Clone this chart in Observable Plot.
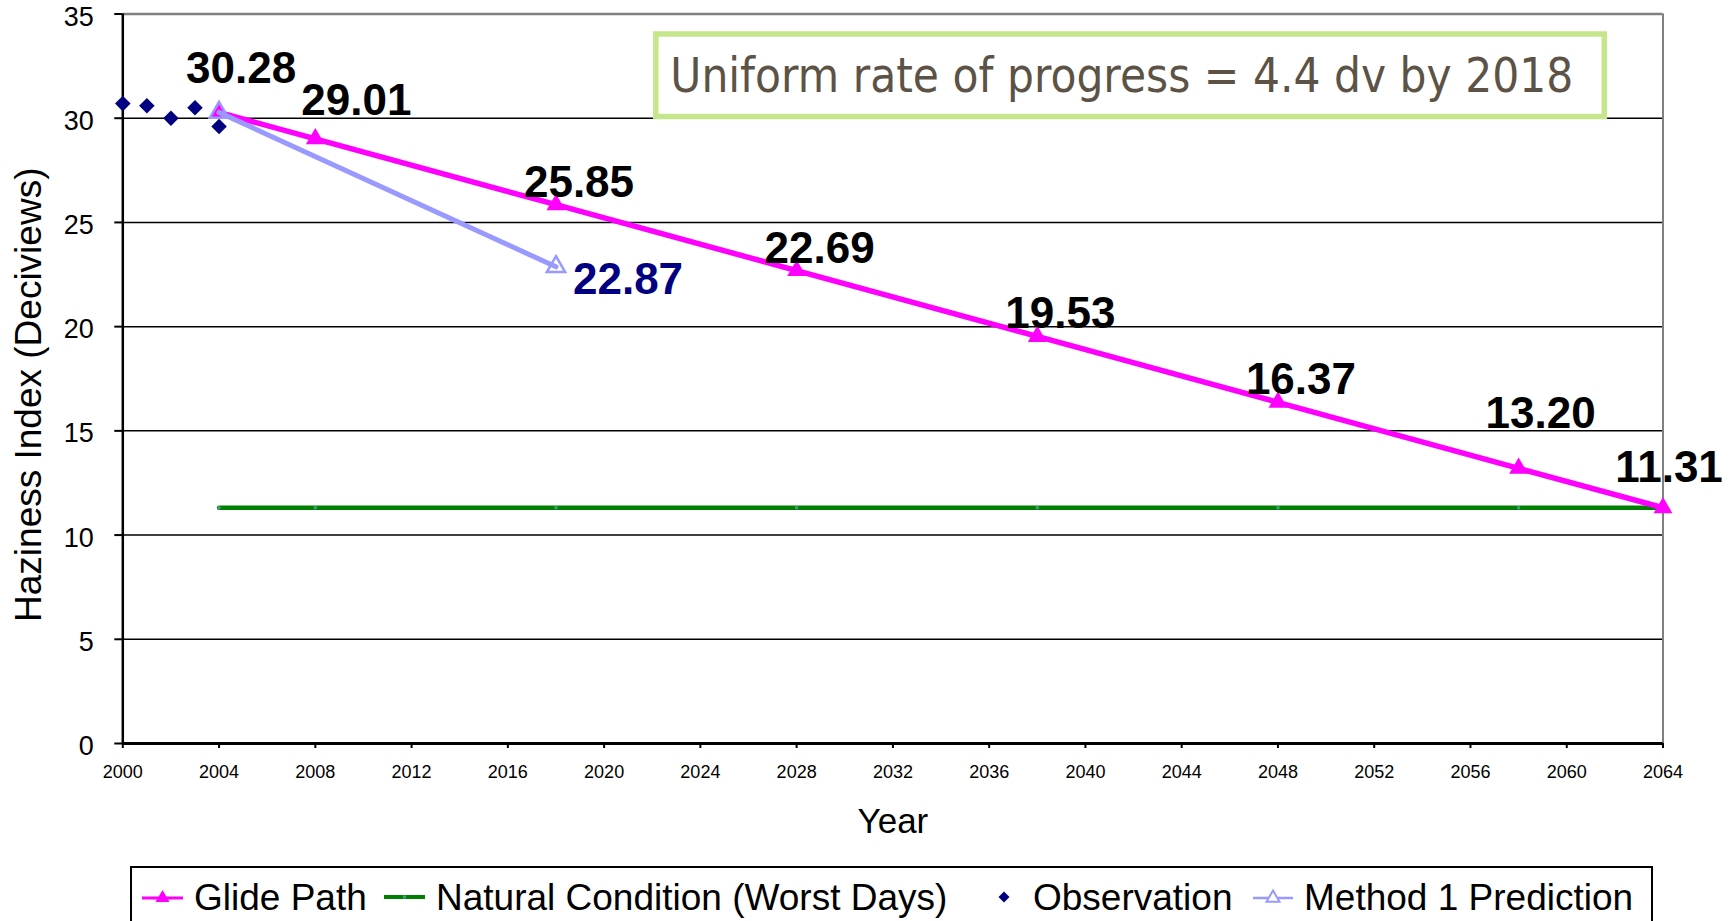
<!DOCTYPE html>
<html>
<head>
<meta charset="utf-8">
<script src="https://cdn.jsdelivr.net/npm/d3@7"></script>
<script src="https://cdn.jsdelivr.net/npm/@observablehq/plot@0.6"></script>
<style>
  html, body { margin: 0; padding: 0; background: #fff; overflow: hidden; }
  svg { display: block; }
</style>
</head>
<body>
<div id="chart"></div>
<script>
// ---- data ----
const glideYears = [2004, 2008, 2018, 2028, 2038, 2048, 2058, 2064];
const glideValues = [30.28, 29.01, 25.85, 22.69, 19.53, 16.37, 13.20, 11.31];
const naturalYears = [2004, 2008, 2018, 2028, 2038, 2048, 2058, 2064];
const naturalValues = [11.31, 11.31, 11.31, 11.31, 11.31, 11.31, 11.31, 11.31];
const obsYears = [2000, 2001, 2002, 2003, 2004];
const obsValues = [30.7, 30.6, 30.0, 30.5, 29.6];
const method1Years = [2004, 2018];
const method1Values = [30.28, 22.87];
const xTicks = [2000, 2004, 2008, 2012, 2016, 2020, 2024, 2028, 2032, 2036, 2040, 2044, 2048, 2052, 2056, 2060, 2064];
const yTicks = [0, 5, 10, 15, 20, 25, 30, 35];
const gridValues = [5, 10, 15, 20, 25, 30];
const legendLabels = ["Glide Path", "Natural Condition (Worst Days)", "Observation", "Method 1 Prediction"];
const annotationText = "Uniform rate of progress = 4.4 dv by 2018";
const xTitle = "Year";
const yTitle = "Haziness Index (Deciviews)";

const glide = glideYears.map((year, i) => ({year, value: glideValues[i]}));
const natural = naturalYears.map((year, i) => ({year, value: naturalValues[i]}));
const obs = obsYears.map((year, i) => ({year, value: obsValues[i]}));
const method1 = method1Years.map((year, i) => ({year, value: method1Values[i]}));

const FONT = "'Liberation Sans', Arial, sans-serif";
const MAGENTA = "#ff00ff", GREEN = "#008000", NAVY = "#000080", LBLUE = "#9999ff", TEAL = "#3f9f80";

const W = 1736, H = 862;
const labelStyle = {x: "year", y: "value", text: d => d.value.toFixed(2), lineAnchor: "bottom",
  fontSize: 44, fontWeight: "bold", fill: "black"};
const inYears = ys => d => ys.includes(d.year);

// annotation box drawn in pixel space relative to frame
function annotation(index, scales, values, dims) {
  const g = d3.create("svg:g");
  const left = dims.marginLeft;
  g.append("rect").attr("x", left + 533.5).attr("y", 34).attr("width", 948.5).attr("height", 82.5)
    .attr("fill", "white").attr("stroke", "#c5e68b").attr("stroke-width", 5.5);
  g.append("text").attr("x", left + 548).attr("y", 92).attr("text-anchor", "start")
    .attr("font-family", "'DejaVu Sans', Verdana, sans-serif").attr("font-size", 48)
    .attr("fill", "#5c5346").attr("textLength", 903).attr("lengthAdjust", "spacingAndGlyphs")
    .text(annotationText);
  return g.node();
}

const plot = Plot.plot({
  width: W, height: H,
  marginLeft: 122.3, marginRight: 73.5, marginTop: 13.5, marginBottom: H - 743,
  style: {fontFamily: FONT, background: "white", overflow: "visible", color: "black"},
  x: {domain: [2000, 2064], axis: null},
  y: {domain: [0, 35], axis: null},
  marks: [
    Plot.ruleY(gridValues, {stroke: "black", strokeWidth: 1.5}),
    Plot.ruleY([35], {stroke: "#808080", strokeWidth: 2.5}),
    Plot.ruleX([2064], {stroke: "#808080", strokeWidth: 2}),
    Plot.axisY({ticks: yTicks, tickSize: 8, tickFormat: () => "", label: null, strokeWidth: 2}),
    Plot.axisX({ticks: xTicks, tickSize: 5, tickFormat: () => "", label: null, strokeWidth: 2}),
    Plot.ruleX([2000], {stroke: "black", strokeWidth: 2.5}),
    Plot.ruleY([0], {stroke: "black", strokeWidth: 3}),
    Plot.text(yTicks, {y: d => d, text: d => String(d), frameAnchor: "left", textAnchor: "end",
      dx: -29, dy: 3, fontSize: 27, fill: "black"}),
    Plot.text(xTicks, {x: d => d, text: d => String(d), frameAnchor: "bottom", lineAnchor: "bottom",
      dy: 34, fontSize: 18, fill: "black"}),
    Plot.text([yTitle], {text: d => d, frameAnchor: "left", textAnchor: "middle", rotate: -90, dx: -94, dy: 16, fontSize: 37, fill: "black"}),
    Plot.text([xTitle], {text: d => d, frameAnchor: "bottom", lineAnchor: "bottom", dy: 89, fontSize: 35, fill: "black"}),
    // Natural condition
    Plot.line(natural, {x: "year", y: "value", stroke: GREEN, strokeWidth: 4.5}),
    Plot.dot(natural, {x: "year", y: "value", symbol: "square", r: 1.7, fill: TEAL}),
    // Glide path
    Plot.line(glide, {x: "year", y: "value", stroke: MAGENTA, strokeWidth: 5.5}),
    Plot.dot(glide, {x: "year", y: "value", symbol: "triangle", r: 7, fill: MAGENTA}),
    // Observation
    Plot.dot(obs, {x: "year", y: "value", symbol: "diamond2", r: 7, fill: NAVY}),
    // Method 1
    Plot.line(method1, {x: "year", y: "value", stroke: LBLUE, strokeWidth: 5}),
    Plot.dot(method1, {x: "year", y: "value", symbol: "triangle", r: 6.8, stroke: LBLUE, strokeWidth: 2.5, fill: "none"}),
    // labels
    Plot.text(glide, {...labelStyle, filter: inYears([2018, 2028, 2038, 2048]), dx: 23, dy: -8}),
    Plot.text(glide, {...labelStyle, filter: inYears([2004]), dx: 22, dy: -29}),
    Plot.text(glide, {...labelStyle, filter: inYears([2008]), dx: 41, dy: -24}),
    Plot.text(glide, {...labelStyle, filter: inYears([2058]), dx: 22, dy: -40}),
    Plot.text(glide, {...labelStyle, filter: inYears([2064]), dx: 6, dy: -26}),
    Plot.text(method1, {...labelStyle, filter: inYears([2018]), fill: NAVY, textAnchor: "start", dx: 17, dy: 27}),
    annotation
  ]
});
document.getElementById("chart").appendChild(plot);

// ---- legend (below the plot svg) ----
const LH = 921 - H;
const leg = d3.select("#chart").append("svg").attr("width", W).attr("height", LH)
  .style("font-family", FONT);
const top0 = 867 - H;
leg.append("rect").attr("x", 131).attr("y", top0).attr("width", 1521).attr("height", 120)
  .attr("fill", "white").attr("stroke", "black").attr("stroke-width", 2);
const symY = 897 - H, baseY = 910 - H;
function tri(cx, cy, s) { const h = s * 0.866; return `M${cx},${cy - h * 2 / 3}L${cx + s / 2},${cy + h / 3}L${cx - s / 2},${cy + h / 3}Z`; }
// Glide Path
leg.append("line").attr("x1", 142).attr("x2", 183).attr("y1", symY + 1).attr("y2", symY + 1).attr("stroke", MAGENTA).attr("stroke-width", 3);
leg.append("path").attr("d", tri(162.5, symY + 1, 14)).attr("fill", MAGENTA);
// Natural
leg.append("line").attr("x1", 384).attr("x2", 425).attr("y1", symY).attr("y2", symY).attr("stroke", GREEN).attr("stroke-width", 4);
leg.append("rect").attr("x", 403).attr("y", symY - 1.5).attr("width", 3).attr("height", 3).attr("fill", TEAL);
// Observation
leg.append("path").attr("d", `M1004,${symY - 5.5}L1009.5,${symY}L1004,${symY + 5.5}L998.5,${symY}Z`).attr("fill", NAVY);
// Method 1
leg.append("line").attr("x1", 1253).attr("x2", 1293).attr("y1", symY + 1).attr("y2", symY + 1).attr("stroke", LBLUE).attr("stroke-width", 2.5);
leg.append("path").attr("d", tri(1273, symY + 1, 13)).attr("fill", "white").attr("stroke", LBLUE).attr("stroke-width", 2);
const textX = [194, 436, 1033, 1304];
legendLabels.forEach((t, i) => {
  leg.append("text").attr("x", textX[i]).attr("y", baseY).attr("font-size", 37).attr("fill", "black").text(t);
});
</script>
</body>
</html>
